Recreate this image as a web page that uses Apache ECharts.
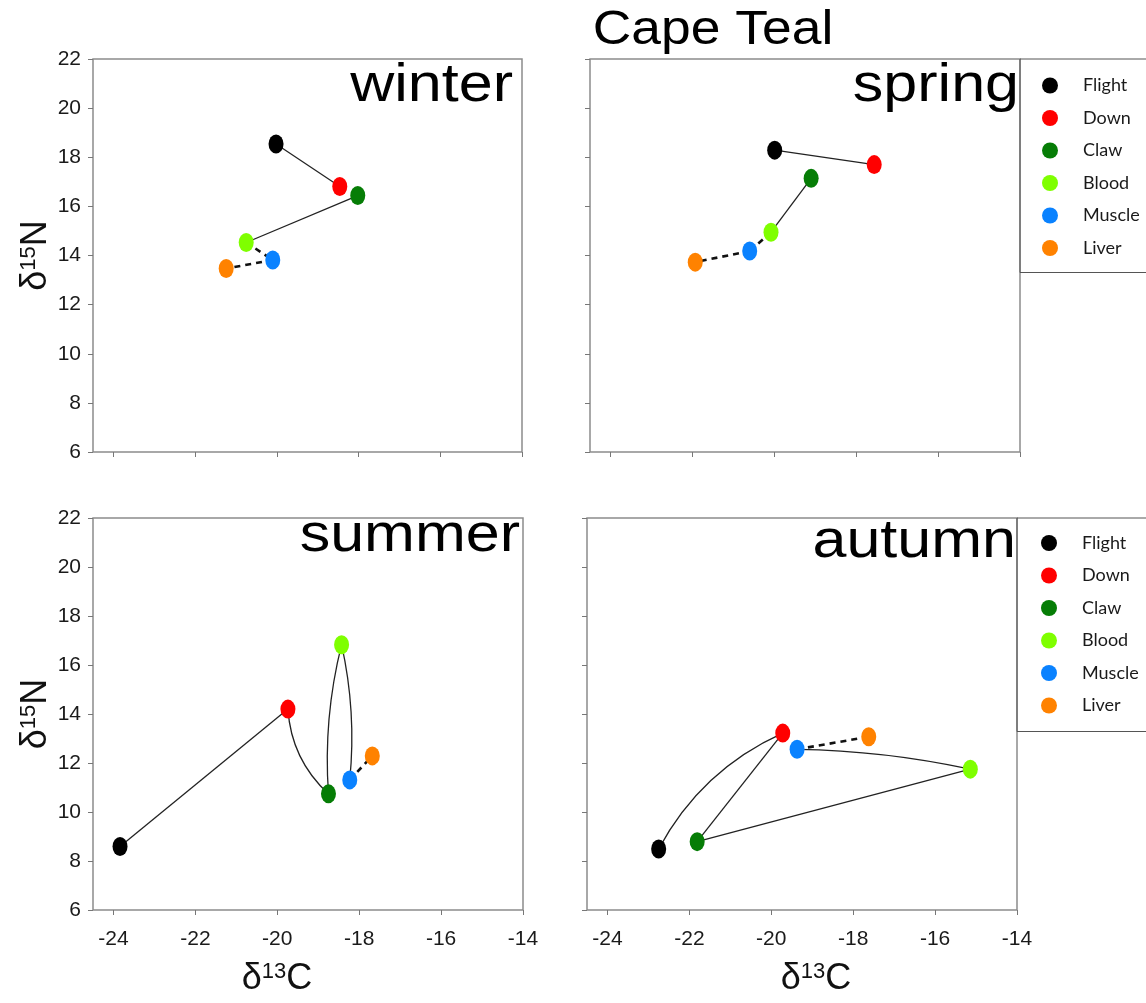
<!DOCTYPE html>
<html lang="en">
<head>
<meta charset="UTF-8" />
<title>Cape Teal</title>
<style>
	* {
		box-sizing: border-box;
		margin: 0;
		padding: 0;
	}
	body {
		background: #fff;
	}
	#chart {
		width: 1146px;
		height: 1003px;
	}
</style>
</head>
<body>
<div id="chart"></div>
<script src="https://cdn.jsdelivr.net/npm/echarts@6/dist/echarts.min.js"></script>
<script>
// tissues, in legend order
var tissues = ['Flight', 'Down', 'Claw', 'Blood', 'Muscle', 'Liver'];
var tissueColors = ['#000000', '#ff0000', '#067d06', '#7fff00', '#0a82ff', '#ff8200'];
var seasons = ['winter', 'spring', 'summer', 'autumn'];

// d13C / d15N per tissue (same order as tissues)
var winterC13 = [-20.02, -18.46, -18.02, -20.75, -20.10, -21.24];
var winterN15 = [18.54, 16.81, 16.44, 14.53, 13.82, 13.47];
var springC13 = [-19.99, -17.56, -19.10, -20.08, -20.60, -21.93];
var springN15 = [18.29, 17.70, 17.14, 14.95, 14.18, 13.73];
var summerC13 = [-23.84, -19.74, -18.75, -18.43, -18.23, -17.68];
var summerN15 = [8.59, 14.20, 10.74, 16.83, 11.31, 12.29];
var autumnC13 = [-22.75, -19.72, -21.81, -15.14, -19.37, -17.62];
var autumnN15 = [8.49, 13.22, 8.79, 11.75, 12.56, 13.07];

var xTicks = [-24, -22, -20, -18, -16, -14];

// joins between tissues: [from, to, curveness]
var solidLinks = {
	winter: [[0, 1, 0], [2, 3, 0]],
	spring: [[0, 1, 0], [2, 3, 0]],
	summer: [[0, 1, 0], [1, 2, -0.2], [2, 3, 0.08], [3, 4, 0.08]],
	autumn: [[0, 1, 0.17], [1, 2, 0], [2, 3, 0], [3, 4, -0.05]]
};
var dashedLinks = {
	winter: [[3, 4, 0], [4, 5, 0]],
	spring: [[3, 4, 0], [4, 5, 0]],
	summer: [[4, 5, 0]],
	autumn: [[4, 5, 0]]
};

var seasonData = {
	winter: [winterC13, winterN15],
	spring: [springC13, springN15],
	summer: [summerC13, summerN15],
	autumn: [autumnC13, autumnN15]
};

// panel boxes [left, top, width, height]
var gridRects = [[93, 59, 429, 393], [590, 59, 430, 393], [93, 518, 430, 392], [587, 518, 430, 392]];

var ellipse = 'path://M1,0 A1,1 0 0,1 1,2 A1,1 0 0,1 1,0 Z';
var tickFont = '"Liberation Sans Narrow", "Liberation Sans", Arial, sans-serif';
var frameColor = '#8c8c8c';

var titleRich = {
	d: { fontSize: 36, fontFamily: 'Liberation Sans', color: '#111' },
	s: { fontSize: 22, fontFamily: 'Liberation Sans', color: '#111', verticalAlign: 'top' }
};

var grids = [], xAxes = [], yAxes = [], series = [];

seasons.forEach(function (season, p) {
	var r = gridRects[p];
	var bottomRow = p >= 2;
	var leftCol = p % 2 === 0;
	grids.push({
		left: r[0], top: r[1], width: r[2], height: r[3],
		show: true, borderColor: frameColor, borderWidth: 1.5
	});
	xAxes.push({
		gridIndex: p,
		type: 'value',
		min: -24.5,
		max: -14,
		splitLine: { show: false },
		axisLine: { show: false, onZero: false },
		axisTick: { show: true, customValues: xTicks, length: 5, lineStyle: { color: '#777' } },
		axisLabel: {
			show: bottomRow, customValues: xTicks, margin: 19,
			fontSize: 21, fontFamily: tickFont, color: '#1a1a1a'
		},
		name: bottomRow ? '{d|δ}{s|13}{d|C}' : '',
		nameLocation: 'middle',
		nameGap: 51,
		nameTextStyle: { rich: titleRich, padding: p === 2 ? [0, 62, 0, 0] : [0, 0, 0, 28] }
	});
	yAxes.push({
		gridIndex: p,
		type: 'value',
		min: 6,
		max: 22,
		interval: 2,
		splitLine: { show: false },
		axisLine: { show: false, onZero: false },
		axisTick: { show: true, length: 5, lineStyle: { color: '#777' } },
		axisLabel: {
			show: leftCol, margin: 12,
			fontSize: 21, fontFamily: tickFont, color: '#1a1a1a'
		},
		name: leftCol ? '{d|δ}{s|15}{d|N}' : '',
		nameLocation: 'middle',
		nameGap: 37,
		nameTextStyle: { rich: titleRich }
	});

	var xs = seasonData[season][0];
	var ys = seasonData[season][1];
	var toLines = function (links) {
		return links.map(function (l) {
			return {
				coords: [[xs[l[0]], ys[l[0]]], [xs[l[1]], ys[l[1]]]],
				lineStyle: { curveness: l[2] }
			};
		});
	};
	series.push({
		type: 'lines',
		coordinateSystem: 'cartesian2d',
		xAxisIndex: p, yAxisIndex: p,
		silent: true, z: 1,
		lineStyle: { color: '#222', width: 1.3, opacity: 1 },
		data: toLines(solidLinks[season])
	});
	series.push({
		type: 'lines',
		coordinateSystem: 'cartesian2d',
		xAxisIndex: p, yAxisIndex: p,
		silent: true, z: 1,
		lineStyle: { color: '#111', width: 2.6, type: [6, 5], opacity: 1 },
		data: toLines(dashedLinks[season])
	});
	tissues.forEach(function (t, i) {
		series.push({
			type: 'scatter',
			name: t,
			xAxisIndex: p, yAxisIndex: p,
			symbol: ellipse,
			symbolSize: [15, 19],
			z: 3,
			itemStyle: { color: tissueColors[i], opacity: 1 },
			data: [[xs[i], ys[i]]]
		});
	});
});

var legendBase = {
	orient: 'vertical',
	data: tissues,
	icon: ellipse,
	itemWidth: 16,
	itemHeight: 19,
	itemGap: 13.5,
	selectedMode: false,
	borderColor: '#555',
	borderWidth: 1,
	textStyle: { fontFamily: 'Lato', fontSize: 18, color: '#1a1a1a', lineHeight: 19, padding: [0, 0, 0, 20] }
};

var seasonFont = '54px "Liberation Sans", Arial, sans-serif';
var seasonLabels = [
	{ x: 513, y: 86, text: 'winter' },
	{ x: 1019, y: 86, text: 'spring' },
	{ x: 520, y: 536, text: 'summer' },
	{ x: 1016, y: 542, text: 'autumn' }
];

var chart = echarts.init(document.getElementById('chart'));
chart.setOption({
	animation: false,
	backgroundColor: '#fff',
	grid: grids,
	xAxis: xAxes,
	yAxis: yAxes,
	legend: [
		Object.assign({}, legendBase, { left: 1020, top: 59, padding: [17, 40, 15, 22] }),
		Object.assign({}, legendBase, { left: 1017, top: 518, padding: [15.5, 40, 16.5, 24] })
	],
	graphic: seasonLabels.map(function (s) {
		return {
			type: 'text', x: s.x, y: s.y, scaleX: 1.13, z: 10,
			style: { text: s.text, font: seasonFont, fill: '#000', textAlign: 'right', textVerticalAlign: 'middle' }
		};
	}).concat([{
		type: 'text', x: 713, y: 30, scaleX: 1.09, z: 10,
		style: { text: 'Cape Teal', font: '49px "Liberation Sans", Arial, sans-serif', fill: '#000', textAlign: 'center', textVerticalAlign: 'middle' }
	}]),
	series: series
});
</script>
</body>
</html>
